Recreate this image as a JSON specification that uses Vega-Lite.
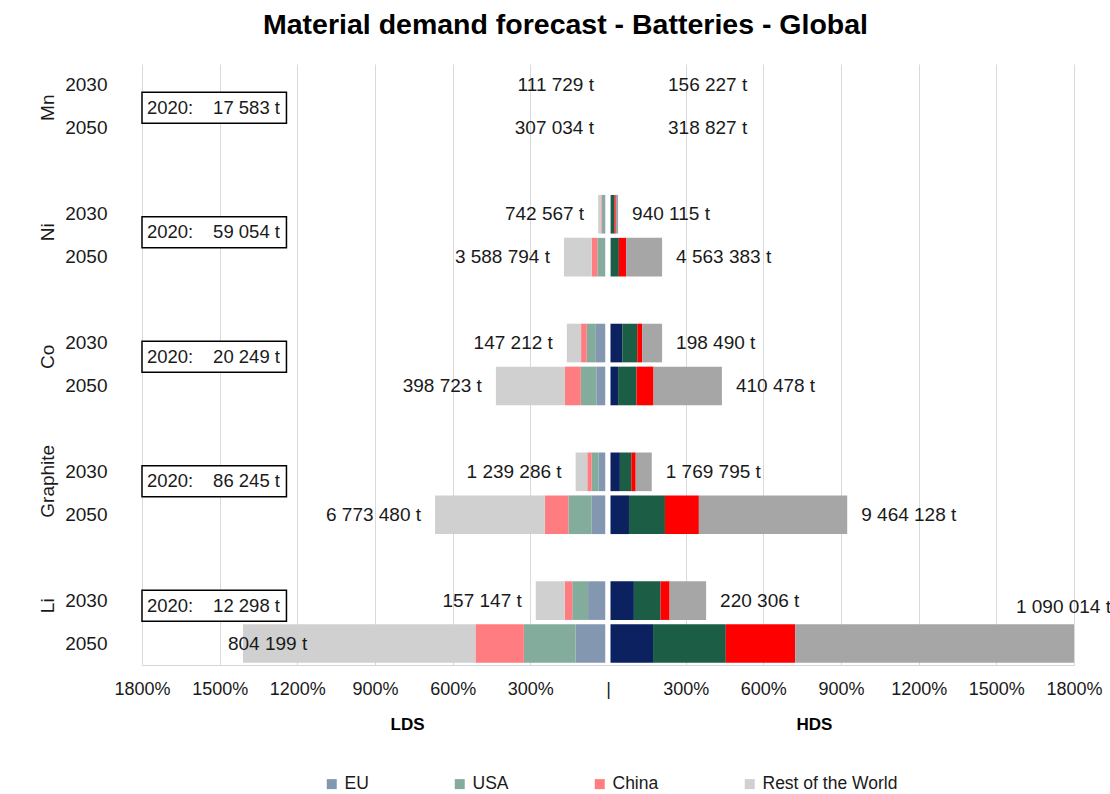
{
  "$schema": "https://vega.github.io/schema/vega-lite/v6.json",
  "background": "white",
  "padding": {"left": 38, "top": 11, "right": 0, "bottom": 0},
  "title": {"text": "Material demand forecast - Batteries - Global", "font": "Liberation Sans", "fontSize": 28.5, "fontWeight": "bold", "color": "#000000", "anchor": "middle", "frame": "bounds", "offset": 22, "dx": -9},
  "config": {
    "font": "Liberation Sans",
    "view": {"stroke": null},
    "locale": {"number": {"decimal": ".", "thousands": " ", "grouping": [3], "currency": ["", " t"]}},
    "axis": {"labelFont": "Liberation Sans", "labelColor": "#1a1a1a", "titleFont": "Liberation Sans", "titleColor": "#000000"},
    "legend": {"labelFont": "Liberation Sans", "labelColor": "#1a1a1a"},
    "text": {"font": "Liberation Sans", "fontSize": 19, "color": "#1a1a1a"}
  },
  "datasets": {
    "seg": [
      {"row": "Mn|2030", "scen": "LDS", "region": "EU", "value": 0},
      {"row": "Mn|2030", "scen": "LDS", "region": "USA", "value": 0},
      {"row": "Mn|2030", "scen": "LDS", "region": "China", "value": 0},
      {"row": "Mn|2030", "scen": "LDS", "region": "Rest of the World", "value": 0},
      {"row": "Mn|2050", "scen": "LDS", "region": "EU", "value": 0},
      {"row": "Mn|2050", "scen": "LDS", "region": "USA", "value": 0},
      {"row": "Mn|2050", "scen": "LDS", "region": "China", "value": 0},
      {"row": "Mn|2050", "scen": "LDS", "region": "Rest of the World", "value": 0},
      {"row": "Ni|2030", "scen": "LDS", "region": "EU", "value": 15},
      {"row": "Ni|2030", "scen": "LDS", "region": "USA", "value": 8},
      {"row": "Ni|2030", "scen": "LDS", "region": "China", "value": 3},
      {"row": "Ni|2030", "scen": "LDS", "region": "Rest of the World", "value": 12},
      {"row": "Ni|2050", "scen": "LDS", "region": "EU", "value": 11},
      {"row": "Ni|2050", "scen": "LDS", "region": "USA", "value": 30},
      {"row": "Ni|2050", "scen": "LDS", "region": "China", "value": 22},
      {"row": "Ni|2050", "scen": "LDS", "region": "Rest of the World", "value": 107},
      {"row": "Co|2030", "scen": "LDS", "region": "EU", "value": 47},
      {"row": "Co|2030", "scen": "LDS", "region": "USA", "value": 35},
      {"row": "Co|2030", "scen": "LDS", "region": "China", "value": 22},
      {"row": "Co|2030", "scen": "LDS", "region": "Rest of the World", "value": 55},
      {"row": "Co|2050", "scen": "LDS", "region": "EU", "value": 45},
      {"row": "Co|2050", "scen": "LDS", "region": "USA", "value": 60},
      {"row": "Co|2050", "scen": "LDS", "region": "China", "value": 61},
      {"row": "Co|2050", "scen": "LDS", "region": "Rest of the World", "value": 267},
      {"row": "Graphite|2030", "scen": "LDS", "region": "EU", "value": 37},
      {"row": "Graphite|2030", "scen": "LDS", "region": "USA", "value": 26},
      {"row": "Graphite|2030", "scen": "LDS", "region": "China", "value": 17},
      {"row": "Graphite|2030", "scen": "LDS", "region": "Rest of the World", "value": 45},
      {"row": "Graphite|2050", "scen": "LDS", "region": "EU", "value": 63},
      {"row": "Graphite|2050", "scen": "LDS", "region": "USA", "value": 90},
      {"row": "Graphite|2050", "scen": "LDS", "region": "China", "value": 91},
      {"row": "Graphite|2050", "scen": "LDS", "region": "Rest of the World", "value": 424},
      {"row": "Li|2030", "scen": "LDS", "region": "EU", "value": 77},
      {"row": "Li|2030", "scen": "LDS", "region": "USA", "value": 61},
      {"row": "Li|2030", "scen": "LDS", "region": "China", "value": 29},
      {"row": "Li|2030", "scen": "LDS", "region": "Rest of the World", "value": 112},
      {"row": "Li|2050", "scen": "LDS", "region": "EU", "value": 125},
      {"row": "Li|2050", "scen": "LDS", "region": "USA", "value": 200},
      {"row": "Li|2050", "scen": "LDS", "region": "China", "value": 187},
      {"row": "Li|2050", "scen": "LDS", "region": "Rest of the World", "value": 898},
      {"row": "Mn|2030", "scen": "HDS", "region": "EU", "value": 0},
      {"row": "Mn|2030", "scen": "HDS", "region": "USA", "value": 0},
      {"row": "Mn|2030", "scen": "HDS", "region": "China", "value": 0},
      {"row": "Mn|2030", "scen": "HDS", "region": "Rest of the World", "value": 0},
      {"row": "Mn|2050", "scen": "HDS", "region": "EU", "value": 0},
      {"row": "Mn|2050", "scen": "HDS", "region": "USA", "value": 0},
      {"row": "Mn|2050", "scen": "HDS", "region": "China", "value": 0},
      {"row": "Mn|2050", "scen": "HDS", "region": "Rest of the World", "value": 0},
      {"row": "Ni|2030", "scen": "HDS", "region": "EU", "value": 10},
      {"row": "Ni|2030", "scen": "HDS", "region": "USA", "value": 15},
      {"row": "Ni|2030", "scen": "HDS", "region": "China", "value": 5},
      {"row": "Ni|2030", "scen": "HDS", "region": "Rest of the World", "value": 9},
      {"row": "Ni|2050", "scen": "HDS", "region": "EU", "value": 10},
      {"row": "Ni|2050", "scen": "HDS", "region": "USA", "value": 32},
      {"row": "Ni|2050", "scen": "HDS", "region": "China", "value": 28},
      {"row": "Ni|2050", "scen": "HDS", "region": "Rest of the World", "value": 139},
      {"row": "Co|2030", "scen": "HDS", "region": "EU", "value": 55},
      {"row": "Co|2030", "scen": "HDS", "region": "USA", "value": 58},
      {"row": "Co|2030", "scen": "HDS", "region": "China", "value": 19},
      {"row": "Co|2030", "scen": "HDS", "region": "Rest of the World", "value": 77},
      {"row": "Co|2050", "scen": "HDS", "region": "EU", "value": 39},
      {"row": "Co|2050", "scen": "HDS", "region": "USA", "value": 71},
      {"row": "Co|2050", "scen": "HDS", "region": "China", "value": 66},
      {"row": "Co|2050", "scen": "HDS", "region": "Rest of the World", "value": 264},
      {"row": "Graphite|2030", "scen": "HDS", "region": "EU", "value": 46},
      {"row": "Graphite|2030", "scen": "HDS", "region": "USA", "value": 44},
      {"row": "Graphite|2030", "scen": "HDS", "region": "China", "value": 17},
      {"row": "Graphite|2030", "scen": "HDS", "region": "Rest of the World", "value": 62},
      {"row": "Graphite|2050", "scen": "HDS", "region": "EU", "value": 81},
      {"row": "Graphite|2050", "scen": "HDS", "region": "USA", "value": 139},
      {"row": "Graphite|2050", "scen": "HDS", "region": "China", "value": 131},
      {"row": "Graphite|2050", "scen": "HDS", "region": "Rest of the World", "value": 573},
      {"row": "Li|2030", "scen": "HDS", "region": "EU", "value": 100},
      {"row": "Li|2030", "scen": "HDS", "region": "USA", "value": 103},
      {"row": "Li|2030", "scen": "HDS", "region": "China", "value": 35},
      {"row": "Li|2030", "scen": "HDS", "region": "Rest of the World", "value": 141},
      {"row": "Li|2050", "scen": "HDS", "region": "EU", "value": 174},
      {"row": "Li|2050", "scen": "HDS", "region": "USA", "value": 281},
      {"row": "Li|2050", "scen": "HDS", "region": "China", "value": 268},
      {"row": "Li|2050", "scen": "HDS", "region": "Rest of the World", "value": 1077}
    ],
    "tot": [
      {"row": "Mn|2030", "LDS": 111729, "HDS": 156227},
      {"row": "Mn|2050", "LDS": 307034, "HDS": 318827},
      {"row": "Ni|2030", "LDS": 742567, "HDS": 940115},
      {"row": "Ni|2050", "LDS": 3588794, "HDS": 4563383},
      {"row": "Co|2030", "LDS": 147212, "HDS": 198490},
      {"row": "Co|2050", "LDS": 398723, "HDS": 410478},
      {"row": "Graphite|2030", "LDS": 1239286, "HDS": 1769795},
      {"row": "Graphite|2050", "LDS": 6773480, "HDS": 9464128},
      {"row": "Li|2030", "LDS": 157147, "HDS": 220306},
      {"row": "Li|2050", "LDS": 804199, "HDS": 1090014}
    ],
    "base": [
      {"element": "Mn", "year": "2020:", "tonnes": 17583},
      {"element": "Ni", "year": "2020:", "tonnes": 59054},
      {"element": "Co", "year": "2020:", "tonnes": 20249},
      {"element": "Graphite", "year": "2020:", "tonnes": 86245},
      {"element": "Li", "year": "2020:", "tonnes": 12298}
    ],
    "divider": [{"at": 0}]
  },
  "hconcat": [
    {
      "width": 466,
      "height": 601,
      "layer": [
        {
          "layer": [
            {
              "data": {"name": "seg"},
              "transform": [
                {"filter": "datum.scen == 'LDS'"},
                {"calculate": "indexof(['EU', 'USA', 'China', 'Rest of the World'], datum.region)", "as": "ord"}
              ],
              "mark": {"type": "bar"},
              "encoding": {
                "y": {"field": "row", "type": "nominal",
                  "scale": {"domain": ["Mn|2030", "Mn|2050", " 1", "Ni|2030", "Ni|2050", " 2", "Co|2030", "Co|2050", " 3", "Graphite|2030", "Graphite|2050", " 4", "Li|2030", "Li|2050"], "paddingInner": 0.1, "paddingOuter": 0.05},
                  "axis": {"orient": "left", "title": null, "ticks": false, "domain": false, "grid": false, "labelPadding": 35, "labelFontSize": 19, "labelColor": "#1a1a1a", "labelExpr": "indexof(datum.value, '|') > 0 ? split(datum.value, '|')[1] : ''"}},
                "x": {"field": "value", "type": "quantitative", "stack": "zero",
                  "scale": {"domain": [0, 1800], "reverse": true, "nice": false, "zero": true},
                  "axis": {"values": [0, 300, 600, 900, 1200, 1500, 1800], "labelExpr": "datum.value == 0 ? '|' : datum.value + '%'", "labelOverlap": false, "labelBound": false, "labelFlush": false, "grid": true, "gridColor": "#d9d9d9", "ticks": false, "domainColor": "#d0d7e1", "labelFontSize": 18, "labelPadding": 15, "title": "LDS", "titleFontSize": 17, "titleFontWeight": "bold", "titlePadding": 18, "titleX": 265}},
                "color": {"field": "region", "type": "nominal", "sort": ["EU", "USA", "China", "Rest of the World"],
                  "scale": {"domain": ["EU", "USA", "China", "Rest of the World"], "range": ["#8497b0", "#84ac9d", "#ff7c80", "#d0d0d0"]},
                  "legend": {"orient": "none", "legendX": 181, "legendY": 711, "direction": "horizontal", "title": null, "symbolType": "square", "symbolSize": 100, "symbolStrokeWidth": 0, "labelFontSize": 17.5, "columnPadding": 82, "labelOffset": 4}},
                "order": {"field": "ord", "type": "quantitative"}
              }
            },
            {
              "data": {"name": "seg"},
              "transform": [
                {"filter": "datum.scen == 'LDS'"},
                {"aggregate": [{"op": "sum", "field": "value", "as": "total"}], "groupby": ["row"]},
                {"lookup": "row", "from": {"data": {"name": "tot"}, "key": "row", "fields": ["LDS"]}}
              ],
              "encoding": {
                "y": {"field": "row", "type": "nominal"},
                "x": {"field": "total", "type": "quantitative"},
                "text": {"field": "LDS", "type": "quantitative", "format": "$,"}
              },
              "layer": [
                {"transform": [{"filter": "datum.total < 1200"}], "mark": {"type": "text", "align": "right", "baseline": "middle", "dx": -14}},
                {"transform": [{"filter": "datum.total >= 1200"}], "mark": {"type": "text", "align": "left", "baseline": "middle", "dx": -15}}
              ]
            },
            {
              "data": {"name": "divider"},
              "mark": {"type": "rule", "color": "white", "strokeWidth": 5},
              "encoding": {"x": {"field": "at", "type": "quantitative"}}
            }
          ]
        },
        {
          "data": {"name": "base"},
          "encoding": {
            "y": {"field": "element", "type": "nominal",
              "scale": {"domain": ["Mn", "Ni", "Co", "Graphite", "Li"], "paddingInner": 0.5, "paddingOuter": 0.1635, "align": 0.31},
              "axis": {"orient": "left", "offset": 85, "title": null, "ticks": false, "domain": false, "grid": false, "labelAngle": -90, "labelAlign": "center", "labelBaseline": "bottom", "labelPadding": 0, "labelFontSize": 19, "labelColor": "#1a1a1a"}}
          },
          "layer": [
            {"mark": {"type": "bar", "fill": "white", "stroke": "#000000", "strokeWidth": 1.5, "size": 31},
             "encoding": {"x": {"datum": 1800}, "x2": {"datum": 1242}}},
            {"mark": {"type": "text", "align": "left", "baseline": "middle", "fontSize": 18.5},
             "encoding": {"x": {"datum": 1781}, "text": {"field": "year"}}},
            {"mark": {"type": "text", "align": "right", "baseline": "middle", "fontSize": 18.5},
             "encoding": {"x": {"datum": 1267}, "text": {"field": "tonnes", "type": "quantitative", "format": "$,"}}}
          ]
        }
      ],
      "resolve": {"scale": {"y": "independent"}, "axis": {"y": "independent"}}
    },
    {
      "width": 466,
      "height": 601,
      "layer": [
        {
          "data": {"name": "seg"},
          "transform": [
            {"filter": "datum.scen == 'HDS'"},
            {"calculate": "indexof(['EU', 'USA', 'China', 'Rest of the World'], datum.region)", "as": "ord"}
          ],
          "mark": {"type": "bar"},
          "encoding": {
            "y": {"field": "row", "type": "nominal",
              "scale": {"domain": ["Mn|2030", "Mn|2050", " 1", "Ni|2030", "Ni|2050", " 2", "Co|2030", "Co|2050", " 3", "Graphite|2030", "Graphite|2050", " 4", "Li|2030", "Li|2050"], "paddingInner": 0.1, "paddingOuter": 0.05},
              "axis": null},
            "x": {"field": "value", "type": "quantitative", "stack": "zero",
              "scale": {"domain": [0, 1800], "nice": false, "zero": true},
              "axis": {"values": [0, 300, 600, 900, 1200, 1500, 1800], "labelExpr": "datum.value == 0 ? '' : datum.value + '%'", "labelOverlap": false, "labelBound": false, "labelFlush": false, "grid": true, "gridColor": "#d9d9d9", "ticks": false, "domainColor": "#d0d7e1", "labelFontSize": 18, "labelPadding": 15, "title": "HDS", "titleFontSize": 17, "titleFontWeight": "bold", "titlePadding": 18, "titleX": 206}},
            "color": {"field": "region", "type": "nominal", "sort": ["EU", "USA", "China", "Rest of the World"],
              "scale": {"domain": ["EU", "USA", "China", "Rest of the World"], "range": ["#0b2160", "#1b5e45", "#ff0000", "#a6a6a6"]},
              "legend": null},
            "order": {"field": "ord", "type": "quantitative"}
          }
        },
        {
          "data": {"name": "seg"},
          "transform": [
            {"filter": "datum.scen == 'HDS'"},
            {"aggregate": [{"op": "sum", "field": "value", "as": "total"}], "groupby": ["row"]},
            {"lookup": "row", "from": {"data": {"name": "tot"}, "key": "row", "fields": ["HDS"]}}
          ],
          "encoding": {
            "y": {"field": "row", "type": "nominal"},
            "x": {"field": "total", "type": "quantitative"},
            "text": {"field": "HDS", "type": "quantitative", "format": "$,"}
          },
          "layer": [
            {"transform": [{"filter": "datum.total == 0"}], "mark": {"type": "text", "align": "left", "baseline": "middle", "dx": 60}},
            {"transform": [{"filter": "datum.total > 0 && datum.total < 1800"}], "mark": {"type": "text", "align": "left", "baseline": "middle", "dx": 14}},
            {"transform": [{"filter": "datum.total >= 1800"}], "mark": {"type": "text", "align": "right", "baseline": "middle", "dx": 37, "dy": -37}}
          ]
        },
        {
          "data": {"name": "divider"},
          "mark": {"type": "rule", "color": "white", "strokeWidth": 5},
          "encoding": {"x": {"field": "at", "type": "quantitative"}}
        }
      ]
    }
  ],
  "spacing": 0,
  "bounds": "flush",
  "resolve": {"scale": {"x": "independent", "y": "independent", "color": "independent"}, "legend": {"color": "independent"}}
}
